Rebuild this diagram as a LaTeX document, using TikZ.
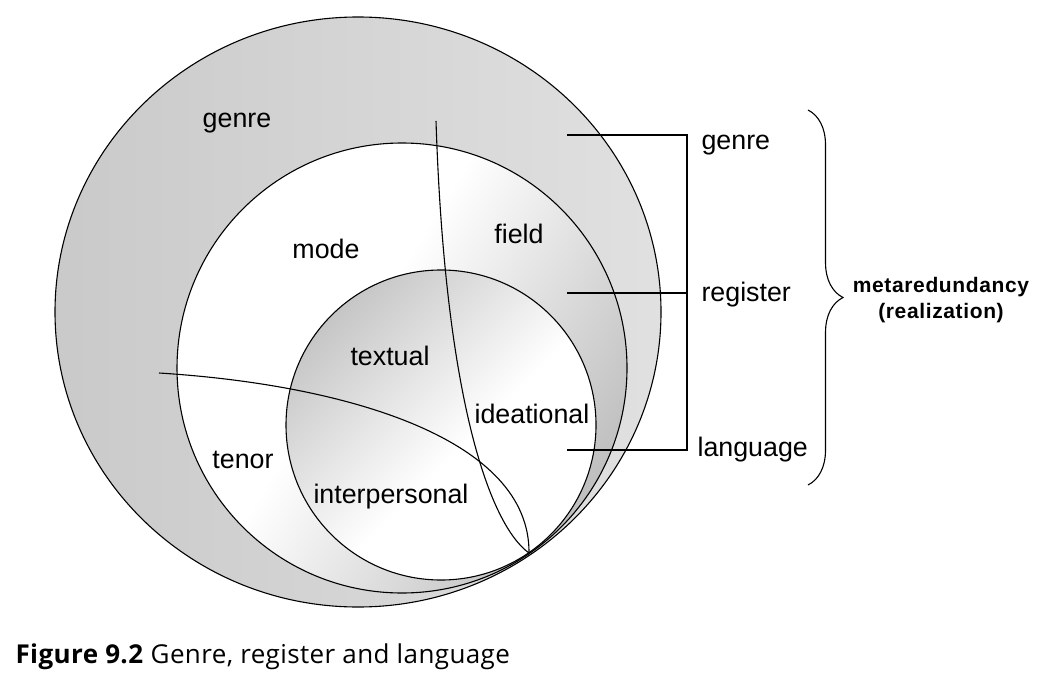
\documentclass[tikz,border=0pt]{standalone}
\usepackage{fontspec}
\setmainfont{Liberation Sans}
\newfontfamily\capfont[LetterSpace=1.5]{Open Sans}
\newfontfamily\metafont[LetterSpace=3]{Liberation Sans}
\usetikzlibrary{decorations.pathreplacing}
\pgfdeclarehorizontalshading{outershade}{100bp}{color(0bp)=(gray!42); color(25bp)=(gray!42); color(75bp)=(gray!24); color(100bp)=(gray!24)}
\pgfdeclarehorizontalshading{midshade}{100bp}{color(0bp)=(white); color(44bp)=(white); color(78bp)=(gray!55); color(100bp)=(gray!55)}
\pgfdeclarehorizontalshading{innershade}{100bp}{color(0bp)=(gray!45); color(25bp)=(gray!45); color(55bp)=(white); color(100bp)=(white)}
\begin{document}
\begin{tikzpicture}[x=0.5pt,y=-0.5pt,line width=0.55pt,
  lbl/.style={font=\fontsize{13.4}{16}\selectfont,inner sep=0pt,anchor=base},
  rlbl/.style={lbl,anchor=base west},
  mlbl/.style={font=\metafont\bfseries\fontsize{10.5}{12}\selectfont,inner sep=0pt,anchor=base}]
\useasboundingbox (0,0) rectangle (1052,684);
% three circles, touching at the lower right
\draw[shade,shading=outershade] (358,312) ellipse [x radius=303,y radius=295];
\draw[shade,shading=midshade,shading angle=-32] (402,368) circle [radius=225];
\draw[shade,shading=innershade,shading angle=-45] (441,425) circle [radius=155];
\coordinate (touch) at (529,553);
\coordinate (fieldtop) at (436,121);
\coordinate (tenorleft) at (159,373);
\draw (fieldtop) .. controls (445,400) and (490,525) .. (touch);
\draw (tenorleft) .. controls (350,385) and (530,440) .. (touch);
% bracket
\coordinate (gtick) at (567,135);
\coordinate (rtick) at (567,293);
\coordinate (ltick) at (567,450);
\coordinate (gcorner) at (687,135);
\coordinate (rcorner) at (687,293);
\draw (gtick) -- (gcorner) |- (ltick);
\draw (rtick) -- (rcorner);
\draw[decorate,decoration={brace,amplitude=17.5pt}] (808,110) -- (808,485);
% labels
\node[lbl] (genre) at (237,128) {genre};
\node[lbl] (mode) at (326,258) {mode};
\node[lbl] (field) at (519,243) {field};
\node[lbl] (textual) at (390,365) {textual};
\node[lbl] (ideational) at (532,423) {ideational};
\node[lbl] (tenor) at (243,468) {tenor};
\node[lbl] (interpersonal) at (391,503) {interpersonal};
\node[rlbl] (rgenre) at (701,150) {genre};
\node[rlbl] (rregister) at (701,301) {register};
\node[rlbl] (rlanguage) at (697,456) {language};
\node[mlbl] (meta) at (941,292) {metaredundancy};
\node[mlbl] (realiz) at (941,318) {(realization)};
\node[anchor=base west,inner sep=0pt,font=\capfont\fontsize{13}{15}\selectfont] (caption) at (15,663)
  {\textbf{Figure 9.2} Genre, register and language};
\end{tikzpicture}
\end{document}
